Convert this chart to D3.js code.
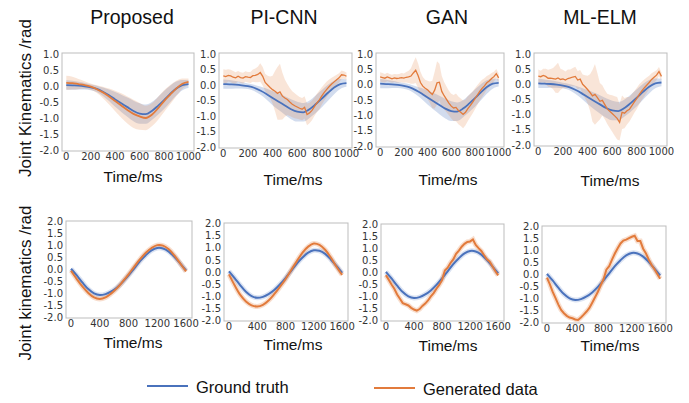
<!DOCTYPE html>
<html>
<head>
<meta charset="utf-8">
<script src="https://cdn.jsdelivr.net/npm/d3@7"></script>
<style>
body { margin: 0; background: #fff; }
text { font-family: "Liberation Sans", Arial, sans-serif; }
.tick { font-family: "DejaVu Sans", sans-serif; font-size: 10px; fill: #333; }
</style>
</head>
<body>
<div id="vis"></div>
<script>
// ---- data ----
var methods = ["Proposed", "PI-CNN", "GAN", "ML-ELM"];

var topXTicks = [0, 200, 400, 600, 800, 1000];
var topYTicks = [-2.0, -1.5, -1.0, -0.5, 0.0, 0.5, 1.0];
var bottomXTicks = [0, 400, 800, 1200, 1600];
var bottomYTicks = [-2.0, -1.5, -1.0, -0.5, 0.0, 0.5, 1.0, 1.5, 2.0];

// time grids (ms)
var tTop = [0, 50, 100, 150, 200, 250, 300, 350, 400, 450, 500, 550, 600, 650, 700, 750, 800, 850, 900, 950, 1000];
var tTopFine = [0, 20, 40, 60, 80, 100, 120, 140, 160, 180, 200, 220, 240, 260, 280, 300, 320, 340, 360, 380,
  400, 420, 440, 460, 480, 500, 520, 540, 560, 580, 600, 620, 640, 660, 680, 700, 720, 740, 760, 780,
  800, 820, 840, 860, 880, 900, 920, 940, 960, 980, 1000];
var tBottom = [0, 80, 160, 240, 320, 400, 480, 560, 640, 720, 800, 880, 960, 1040, 1120, 1200, 1280, 1360, 1440, 1520, 1600];
var tBottomFine = [0, 40, 80, 120, 160, 200, 240, 280, 320, 360, 400, 440, 480, 520, 560, 600, 640, 680, 720, 760,
  800, 840, 880, 920, 960, 1000, 1040, 1080, 1120, 1160, 1200, 1240, 1280, 1320, 1360, 1400, 1440, 1480, 1520, 1560, 1600];

// top row: ground truth (same in every panel)
var truthTop = [0.03, 0.02, 0.01, -0.01, -0.04, -0.09, -0.18, -0.29, -0.42, -0.54, -0.66, -0.78, -0.86, -0.88, -0.78, -0.62, -0.44, -0.25, -0.08, 0.03, 0.06];
var truthTopSd = [0.15, 0.14, 0.12, 0.10, 0.09, 0.10, 0.13, 0.18, 0.23, 0.27, 0.30, 0.32, 0.32, 0.30, 0.28, 0.28, 0.28, 0.26, 0.22, 0.16, 0.12];

// top row: generated data
var proposedTop = [0.10, 0.09, 0.06, 0.03, -0.02, -0.10, -0.20, -0.33, -0.47, -0.61, -0.75, -0.87, -0.95, -1.00, -0.90, -0.70, -0.47, -0.27, -0.08, 0.07, 0.13];
var proposedTopSd = [0.22, 0.20, 0.16, 0.12, 0.10, 0.12, 0.18, 0.25, 0.32, 0.38, 0.42, 0.44, 0.42, 0.38, 0.36, 0.36, 0.34, 0.30, 0.24, 0.16, 0.10];

var picnnTop = [0.29, 0.27, 0.31, 0.29, 0.25, 0.23, 0.28, 0.24, 0.22, 0.27, 0.25, 0.24, 0.30, 0.31, 0.34, 0.40, 0.28, 0.08, 0.00, -0.08,
  -0.15, -0.20, -0.27, -0.22, -0.36, -0.42, -0.47, -0.55, -0.62, -0.67, -0.71, -0.75, -0.78, -0.72, -0.95, -0.90, -0.82, -0.70, -0.58, -0.48,
  -0.35, -0.24, -0.14, -0.05, 0.03, 0.10, 0.17, 0.23, 0.33, 0.32, 0.28];
var picnnTopSd = [0.22, 0.22, 0.20, 0.20, 0.20, 0.18, 0.17, 0.17, 0.17, 0.17, 0.17, 0.18, 0.20, 0.22, 0.25, 0.30, 0.30, 0.28, 0.30, 0.35,
  0.45, 0.65, 0.85, 0.90, 0.75, 0.60, 0.50, 0.45, 0.42, 0.40, 0.38, 0.36, 0.36, 0.36, 0.35, 0.33, 0.32, 0.30, 0.30, 0.30,
  0.28, 0.26, 0.25, 0.23, 0.20, 0.18, 0.16, 0.15, 0.14, 0.12, 0.12];

var ganTop = [0.25, 0.23, 0.21, 0.25, 0.22, 0.19, 0.22, 0.20, 0.21, 0.23, 0.21, 0.24, 0.25, 0.28, 0.38, 0.47, 0.30, 0.07, -0.05, -0.12,
  -0.17, -0.25, -0.32, -0.18, 0.06, 0.08, -0.22, -0.36, -0.48, -0.60, -0.70, -0.76, -0.74, -0.84, -0.90, -0.97, -0.90, -0.78, -0.68, -0.58,
  -0.46, -0.34, -0.22, -0.12, -0.04, 0.06, 0.12, 0.20, 0.26, 0.36, 0.22];
var ganTopSd = [0.15, 0.15, 0.14, 0.14, 0.13, 0.13, 0.13, 0.14, 0.14, 0.15, 0.15, 0.17, 0.20, 0.25, 0.35, 0.42, 0.40, 0.35, 0.30, 0.28,
  0.30, 0.35, 0.45, 0.60, 0.70, 0.60, 0.50, 0.45, 0.42, 0.40, 0.40, 0.42, 0.45, 0.45, 0.45, 0.45, 0.42, 0.40, 0.38, 0.36,
  0.34, 0.32, 0.30, 0.28, 0.25, 0.22, 0.20, 0.18, 0.16, 0.15, 0.15];

var mlelmTop = [0.27, 0.25, 0.29, 0.26, 0.20, 0.20, 0.19, 0.17, 0.21, 0.16, 0.18, 0.14, 0.19, 0.21, 0.24, 0.26, 0.14, 0.17, 0.00, -0.08,
  -0.17, -0.27, -0.38, -0.33, -0.44, -0.56, -0.53, -0.67, -0.81, -0.89, -0.96, -1.04, -1.12, -1.25, -0.92, -0.95, -0.87, -0.82, -0.70, -0.58,
  -0.46, -0.33, -0.22, -0.12, -0.03, 0.06, 0.16, 0.23, 0.30, 0.42, 0.26];
var mlelmTopSd = [0.22, 0.20, 0.22, 0.25, 0.28, 0.30, 0.35, 0.45, 0.50, 0.35, 0.30, 0.28, 0.30, 0.28, 0.30, 0.32, 0.30, 0.30, 0.32, 0.38,
  0.45, 0.60, 0.85, 1.00, 0.80, 0.60, 0.50, 0.48, 0.50, 0.55, 0.60, 0.65, 0.70, 0.60, 0.55, 0.50, 0.45, 0.40, 0.38, 0.36,
  0.35, 0.33, 0.30, 0.28, 0.25, 0.22, 0.20, 0.18, 0.16, 0.15, 0.14];

// bottom row
var truthBottom = [0.03, -0.25, -0.55, -0.82, -1.00, -1.07, -1.03, -0.92, -0.75, -0.52, -0.25, 0.05, 0.35, 0.60, 0.80, 0.90, 0.88, 0.75, 0.52, 0.25, -0.04];
var proposedBottom = [-0.05, -0.40, -0.72, -0.98, -1.17, -1.23, -1.17, -1.00, -0.78, -0.50, -0.20, 0.12, 0.43, 0.70, 0.90, 1.02, 1.00, 0.85, 0.58, 0.25, -0.08];
var picnnBottom = [-0.10, -0.55, -0.95, -1.22, -1.38, -1.43, -1.36, -1.18, -0.92, -0.62, -0.30, 0.08, 0.45, 0.80, 1.05, 1.18, 1.12, 0.92, 0.60, 0.22, -0.12];
var ganBottom = [-0.11, -0.30, -0.50, -0.68, -0.92, -1.10, -1.28, -1.33, -1.38, -1.48, -1.55, -1.60, -1.53, -1.40, -1.30, -1.17, -1.00, -0.86, -0.68, -0.52,
  -0.32, 0.08, 0.20, 0.40, 0.55, 0.78, 0.92, 1.08, 1.20, 1.28, 1.30, 1.38, 1.15, 1.02, 0.90, 0.72, 0.55, 0.45, 0.25, 0.05, -0.12];
var mlelmBottom = [-0.13, -0.40, -0.72, -0.98, -1.25, -1.48, -1.62, -1.73, -1.80, -1.83, -1.88, -1.90, -1.80, -1.68, -1.55, -1.40, -1.18, -0.95, -0.72, -0.45,
  -0.20, 0.20, 0.35, 0.62, 0.88, 1.10, 1.30, 1.42, 1.46, 1.52, 1.58, 1.62, 1.40, 1.40, 1.08, 0.88, 0.62, 0.40, 0.22, 0.02, -0.18];

// ---- layout ----
var W = 689, H = 403;
var blue = "#4a72bc", orange = "#e27b3c";
var topBoxes = [[62, 194, 53, 151], [219, 352, 53, 148], [376, 504, 53, 147], [534, 667, 53, 146]];
var bottomBoxes = [[66, 192, 221, 318], [224, 348, 223, 321], [381, 504, 224, 321], [542, 666, 226, 323]];
var titleX = [132, 284, 447, 600];
var xlabX = [133, 293, 448, 610];
var xlabTopY = [182, 185, 185, 186];
var xlabBottomY = [348, 350, 351, 351];

var topGen = [
  {t: tTop, v: proposedTop, sd: proposedTopSd, smooth: true},
  {t: tTopFine, v: picnnTop, sd: picnnTopSd},
  {t: tTopFine, v: ganTop, sd: ganTopSd},
  {t: tTopFine, v: mlelmTop, sd: mlelmTopSd}
];
var bottomGen = [
  {t: tBottom, v: proposedBottom, smooth: true},
  {t: tBottom, v: picnnBottom, smooth: true},
  {t: tBottomFine, v: ganBottom},
  {t: tBottomFine, v: mlelmBottom}
];

var svg = d3.select("#vis").append("svg").attr("width", W).attr("height", H);

function drawPanel(box, i, row) {
  var isTop = row === 0;
  var x = d3.scaleLinear().domain(isTop ? [-35, 1045] : [-70, 1683]).range([box[0], box[1]]);
  var y = d3.scaleLinear().domain(isTop ? [-2.03, 1.03] : [-2.03, 2.03]).range([box[3], box[2]]);
  var g = svg.append("g");
  var clipId = "clip" + row + "_" + i;
  g.append("clipPath").attr("id", clipId).append("rect")
    .attr("x", box[0]).attr("y", box[2]).attr("width", box[1] - box[0]).attr("height", box[3] - box[2]);
  var plot = g.append("g").attr("clip-path", "url(#" + clipId + ")");

  if (isTop) {
    var gen = topGen[i];
    var bandT = d3.area().curve(d3.curveMonotoneX)
      .x(function(d, k) { return x(tTop[k]); })
      .y0(function(d, k) { return y(d - truthTopSd[k]); })
      .y1(function(d, k) { return y(d + truthTopSd[k]); });
    plot.append("path").datum(truthTop).attr("d", bandT).attr("fill", blue).attr("opacity", 0.25);
    var bandG = d3.area().curve(gen.smooth ? d3.curveMonotoneX : d3.curveLinear)
      .x(function(d, k) { return x(gen.t[k]); })
      .y0(function(d, k) { return y(d - gen.sd[k]); })
      .y1(function(d, k) { return y(d + gen.sd[k]); });
    plot.append("path").datum(gen.v).attr("d", bandG).attr("fill", orange).attr("opacity", 0.2);
    var lineT = d3.line().curve(d3.curveMonotoneX).x(function(d, k) { return x(tTop[k]); }).y(function(d) { return y(d); });
    plot.append("path").datum(truthTop).attr("d", lineT).attr("fill", "none").attr("stroke", blue).attr("stroke-width", 1.8);
    var lineG = d3.line().curve(gen.smooth ? d3.curveMonotoneX : d3.curveLinear)
      .x(function(d, k) { return x(gen.t[k]); }).y(function(d) { return y(d); });
    plot.append("path").datum(gen.v).attr("d", lineG).attr("fill", "none").attr("stroke", orange)
      .attr("stroke-width", gen.smooth ? 1.8 : 1.3);
  } else {
    var genB = bottomGen[i];
    var lineTB = d3.line().curve(d3.curveCatmullRom).x(function(d, k) { return x(tBottom[k]); }).y(function(d) { return y(d); });
    var lineGB = d3.line().curve(genB.smooth ? d3.curveCatmullRom : d3.curveLinear)
      .x(function(d, k) { return x(genB.t[k]); }).y(function(d) { return y(d); });
    plot.append("path").datum(truthBottom).attr("d", lineTB).attr("fill", "none").attr("stroke", blue)
      .attr("stroke-width", 5).attr("opacity", 0.2);
    plot.append("path").datum(genB.v).attr("d", lineGB).attr("fill", "none").attr("stroke", orange)
      .attr("stroke-width", 5).attr("opacity", 0.25);
    plot.append("path").datum(truthBottom).attr("d", lineTB).attr("fill", "none").attr("stroke", blue).attr("stroke-width", 2);
    plot.append("path").datum(genB.v).attr("d", lineGB).attr("fill", "none").attr("stroke", orange).attr("stroke-width", 2);
  }

  g.append("rect").attr("x", box[0]).attr("y", box[2]).attr("width", box[1] - box[0]).attr("height", box[3] - box[2])
    .attr("fill", "none").attr("stroke", "#bdbdbd").attr("stroke-width", 1);

  // tick labels
  var yt = isTop ? topYTicks : bottomYTicks;
  var xt = isTop ? topXTicks : bottomXTicks;
  g.selectAll(".ytl").data(yt).enter().append("text").attr("class", "tick")
    .attr("x", box[0] - 3).attr("y", function(d) { return y(d); }).attr("dy", "0.36em")
    .attr("text-anchor", "end").text(function(d) { return d.toFixed(1); });
  g.selectAll(".xtl").data(xt).enter().append("text").attr("class", "tick")
    .attr("x", function(d) { return x(d); }).attr("y", box[3] + 9)
    .attr("text-anchor", "middle").text(function(d) { return d; });

  g.append("text").attr("x", xlabX[i]).attr("y", isTop ? xlabTopY[i] : xlabBottomY[i])
    .attr("text-anchor", "middle").attr("font-size", "15.5px").attr("fill", "#111").text("Time/ms");
}

topBoxes.forEach(function(b, i) { drawPanel(b, i, 0); });
bottomBoxes.forEach(function(b, i) { drawPanel(b, i, 1); });

svg.selectAll(".title").data(methods).enter().append("text")
  .attr("x", function(d, i) { return titleX[i]; }).attr("y", 24)
  .attr("text-anchor", "middle").attr("font-size", "19.5px").attr("fill", "#111").text(function(d) { return d; });

svg.append("text").attr("transform", "translate(31,98) rotate(-90)").attr("text-anchor", "middle")
  .attr("font-size", "17px").attr("fill", "#111").text("Joint Kinematics /rad");
svg.append("text").attr("transform", "translate(31,283) rotate(-90)").attr("text-anchor", "middle")
  .attr("font-size", "17px").attr("fill", "#111").text("Joint kinematics /rad");

// legend
var legend = [{name: "Ground truth", c: blue, x: 147, y: 386}, {name: "Generated data", c: orange, x: 374, y: 388}];
legend.forEach(function(l) {
  svg.append("line").attr("x1", l.x).attr("x2", l.x + 41).attr("y1", l.y).attr("y2", l.y)
    .attr("stroke", l.c).attr("stroke-width", 2);
  svg.append("text").attr("x", l.x + 49).attr("y", l.y + 7).attr("font-size", "16.5px").attr("fill", "#111").text(l.name);
});
</script>
</body>
</html>
